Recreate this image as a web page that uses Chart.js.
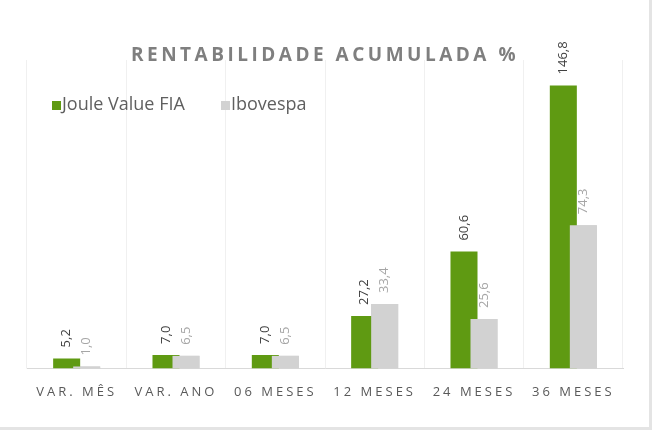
<!DOCTYPE html>
<html>
<head>
<meta charset="utf-8">
<script src="https://cdn.jsdelivr.net/npm/chart.js@4/dist/chart.umd.min.js"></script>
<style>
  body { margin: 0; background: #fff; }
  #wrap { width: 649px; height: 427px; border-right: 3px solid #e4e4e4; border-bottom: 3px solid #e4e4e4; }
</style>
</head>
<body>
<div id="wrap"><canvas id="chart"></canvas></div>
<script>
const labels = ['VAR. MÊS', 'VAR. ANO', '06 MESES', '12 MESES', '24 MESES', '36 MESES'];
const joule = [5.2, 7.0, 7.0, 27.2, 60.6, 146.8];
const ibovespa = [1.0, 6.5, 6.5, 33.4, 25.6, 74.3];
const seriesNames = ['Joule Value FIA', 'Ibovespa'];
const titleText = 'RENTABILIDADE ACUMULADA %';

const green = '#5f9a12';
const grey = '#d2d2d2';

// titulo + legenda desenhados a mao (espacamento entre letras)
const decorPlugin = {
  id: 'decor',
  beforeDraw(chart) {
    chart.ctx.letterSpacing = '3px';
  },
  beforeDatasetsDraw(chart) {
    chart.ctx.letterSpacing = '0px';
  },
  afterDraw(chart) {
    const ctx = chart.ctx;
    ctx.save();
    ctx.letterSpacing = '3.5px';
    ctx.font = 'bold 19px "Open Sans"';
    ctx.fillStyle = '#7f7f7f';
    ctx.textAlign = 'center';
    ctx.textBaseline = 'alphabetic';
    ctx.fillText(titleText, 325, 61);

    ctx.letterSpacing = '0px';
    ctx.font = '18px "Open Sans"';
    ctx.textAlign = 'left';
    ctx.textBaseline = 'middle';
    const cols = [green, grey];
    const xs = [52, 221];
    seriesNames.forEach((n, i) => {
      ctx.fillStyle = cols[i];
      ctx.fillRect(xs[i], 101, 9, 9);
      ctx.fillStyle = '#5f5f5f';
      ctx.fillText(n, xs[i] + 10, 105);
    });
    ctx.restore();
  }
};

// cinza por cima do verde + rotulos de valor na vertical
const valuePlugin = {
  id: 'values',
  afterDatasetsDraw(chart) {
    chart.getDatasetMeta(1).controller.draw();
    const ctx = chart.ctx;
    const colors = ['#404040', '#a6a6a6'];
    chart.data.datasets.forEach((ds, di) => {
      chart.getDatasetMeta(di).data.forEach((bar, i) => {
        ctx.save();
        ctx.translate(bar.x, bar.y - 11);
        ctx.rotate(-Math.PI / 2);
        ctx.font = '13px "Open Sans"';
        ctx.fillStyle = colors[di];
        ctx.textAlign = 'left';
        ctx.textBaseline = 'middle';
        ctx.fillText(ds.data[i].toFixed(1).replace('.', ','), 0, 0);
        ctx.restore();
      });
    });
  }
};

const ctx = document.getElementById('chart').getContext('2d');
new Chart(ctx, {
  type: 'bar',
  data: {
    labels: labels,
    datasets: [
      { label: seriesNames[0], data: joule, backgroundColor: green },
      { label: seriesNames[1], data: ibovespa, backgroundColor: grey }
    ]
  },
  options: {
    responsive: true,
    maintainAspectRatio: false,
    animation: false,
    barPercentage: 1.35,
    categoryPercentage: 0.403,
    layout: { padding: { left: 27, right: 26, top: 60, bottom: 11 } },
    plugins: {
      legend: { display: false },
      title: { display: false },
      tooltip: { enabled: false }
    },
    scales: {
      x: {
        grid: { color: '#f0f0f0', tickLength: 0 },
        border: { color: '#d9d9d9' },
        ticks: {
          color: '#595959',
          font: { family: 'Open Sans', size: 13 },
          padding: 16,
          maxRotation: 0,
          autoSkip: false
        }
      },
      y: {
        display: false,
        min: 0,
        max: 160
      }
    }
  },
  plugins: [decorPlugin, valuePlugin]
});
</script>
</body>
</html>
